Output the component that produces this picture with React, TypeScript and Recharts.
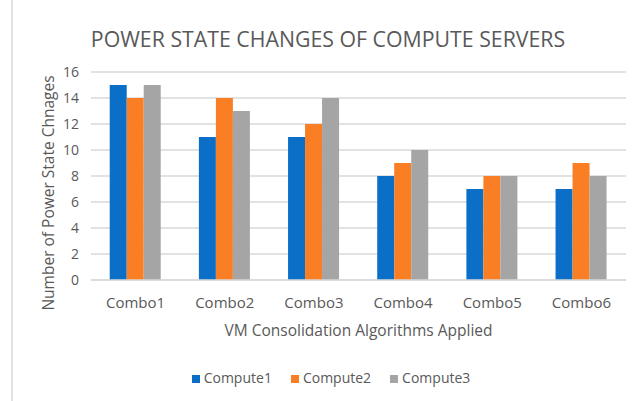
import { BarChart, Bar, XAxis, YAxis, CartesianGrid, Legend } from "recharts";

const combos = ["Combo1", "Combo2", "Combo3", "Combo4", "Combo5", "Combo6"];
const compute1 = [15, 11, 11, 8, 7, 7];
const compute2 = [14, 14, 12, 9, 8, 9];
const compute3 = [15, 13, 14, 10, 8, 8];
const yTicks = [0, 2, 4, 6, 8, 10, 12, 14, 16];

const data = combos.map((name, i) => ({
  name,
  Compute1: compute1[i],
  Compute2: compute2[i],
  Compute3: compute3[i],
}));

const font = "'Open Sans', sans-serif";
const textGray = "#595959";
const gridGray = "#D9D9D9";

// y axis title sits a bit lower than the plot centre in the original
const YTitle = () => (
  <text
    transform="translate(48,193) rotate(-90)"
    textAnchor="middle"
    dominantBaseline="central"
    fill={textGray}
    fontSize={15.5}
    fontFamily={font}
  >
    Number of Power State Chnages
  </text>
);

export default function App() {
  return (
    <div style={{ position: "absolute", left: 0, top: 0, width: 632, height: 401, background: "#fff", fontFamily: font }}>
      <div style={{ position: "absolute", left: 11, top: 0, width: 2, height: 401, background: "#E3E3E3" }} />
      <div
        style={{
          position: "absolute",
          left: 24,
          width: 608,
          top: 24,
          textAlign: "center",
          fontSize: 21.3,
          color: textGray,
          lineHeight: "30px",
        }}
      >
        POWER STATE CHANGES OF COMPUTE SERVERS
      </div>
      <BarChart
        width={632}
        height={401}
        data={data}
        margin={{ top: 72, right: 6, bottom: 65, left: 0 }}
        barCategoryGap="21%"
        barGap={0}
      >
        <CartesianGrid vertical={false} stroke={gridGray} strokeWidth={1.5} />
        <XAxis
          dataKey="name"
          height={56}
          tickLine={false}
          axisLine={{ stroke: gridGray, strokeWidth: 1.5 }}
          tickMargin={11}
          tick={{ fill: textGray, fontSize: 15, fontFamily: font }}
          label={{
            value: "VM Consolidation Algorithms Applied",
            position: "insideBottom",
            offset: 0,
            fill: textGray,
            fontSize: 15.5,
            fontFamily: font,
          }}
        />
        <YAxis
          width={91}
          domain={[0, 16]}
          ticks={yTicks}
          tickLine={false}
          axisLine={false}
          tickMargin={6}
          tick={{ fill: textGray, fontSize: 14, fontFamily: font }}
          label={{ content: () => <YTitle /> }}
        />
        <Legend
          verticalAlign="middle"
          align="center"
          iconType="square"
          iconSize={8}
          wrapperStyle={{ top: 368, left: 49, width: 583, fontSize: 14, fontFamily: font, color: textGray }}
          formatter={(v) => <span style={{ color: textGray, paddingRight: 9 }}>{v}</span>}
        />
        <Bar dataKey="Compute1" fill="#0B6FC7" isAnimationActive={false} />
        <Bar dataKey="Compute2" fill="#FA7E23" isAnimationActive={false} />
        <Bar dataKey="Compute3" fill="#A5A5A5" isAnimationActive={false} />
      </BarChart>
    </div>
  );
}
